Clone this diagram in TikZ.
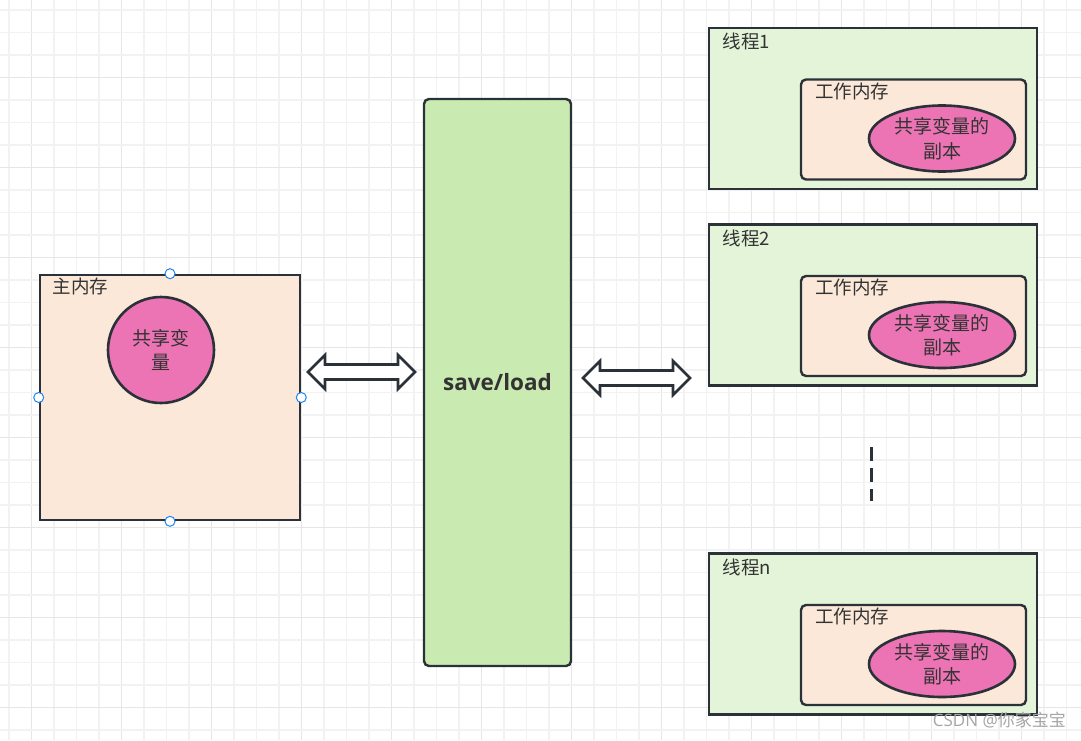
\documentclass[tikz,border=0pt]{standalone}
\usepackage{fontspec}
\usepackage{tikz}
\usetikzlibrary{shapes.geometric,calc}
\newfontfamily\cjk{Noto Sans CJK SC}
\newfontfamily\opensans{Open Sans}
\definecolor{edge}{HTML}{2B3138}
\definecolor{peach}{HTML}{FBE8D8}
\definecolor{pinkvar}{HTML}{EC74B4}
\definecolor{slgreen}{HTML}{C9EBB1}
\definecolor{thgreen}{HTML}{E3F4D9}
\definecolor{txt}{HTML}{333333}
\definecolor{gridminor}{HTML}{F2F2F2}
\definecolor{gridmajor}{HTML}{E6E6E6}
\definecolor{handleblue}{HTML}{1E86F0}
\tikzset{
  membox/.style={draw=edge, line width=2.6pt, fill=peach},
  threadbox/.style={draw=edge, line width=2.6pt, fill=thgreen},
  workbox/.style={draw=edge, line width=2.4pt, fill=peach, rounded corners=5pt},
  savebox/.style={draw=edge, line width=2.4pt, fill=slgreen, rounded corners=5pt,
    font=\opensans\fontsize{22.5}{26}\selectfont\bfseries, text=txt},
  sharedvar/.style={draw=edge, line width=2.6pt, fill=pinkvar, align=center,
    inner sep=0pt, font=\cjk\fontsize{19}{24.5}\selectfont, text=txt},
  lbl/.style={anchor=west, inner sep=0pt, font=\cjk\fontsize{18.5}{22}\selectfont, text=txt},
  handle/.style={circle, draw=handleblue, line width=1pt, fill=white, minimum size=10pt, inner sep=0pt},
  hollow/.style={draw=edge, line width=2.6pt, fill=white, line join=miter},
}
% hollow double arrow between two named points
\newcommand{\hollowdbl}[2]{%
  \draw[hollow] (#1) -- ++(17,-17) -- ++(0,9.5) -- ($(#2)+(-17,-7.5)$) -- ++(0,-9.5)
    -- (#2) -- ++(-17,17) -- ++(0,-9.5) -- ($(#1)+(17,7.5)$) -- ++(0,9.5) -- cycle;}
\begin{document}
\begin{tikzpicture}[x=1pt, y=-1pt]
  \useasboundingbox (0,0) rectangle (1081,740);
  \fill[white] (0,0) rectangle (1081,740);
  % grid
  \foreach \i in {0,...,47} {
    \pgfmathtruncatemacro{\m}{mod(\i,4)}
    \ifnum\m=1 \draw[gridmajor, line width=1.6pt] (9+22.5*\i,0) -- (9+22.5*\i,740);
    \else \draw[gridminor, line width=1.4pt] (9+22.5*\i,0) -- (9+22.5*\i,740); \fi
  }
  \foreach \i in {0,...,32} {
    \pgfmathtruncatemacro{\m}{mod(\i,4)}
    \ifnum\m=3 \draw[gridmajor, line width=1.6pt] (0,10+22.5*\i) -- (1081,10+22.5*\i);
    \else \draw[gridminor, line width=1.4pt] (0,10+22.5*\i) -- (1081,10+22.5*\i); \fi
  }

  % main memory
  \node[membox, minimum width=260pt, minimum height=245pt] (mainmem) at (170,397.5) {};
  \node[lbl] (mainlbl) at ([shift={(14,13)}]mainmem.north west) {主内存};
  \node[sharedvar, circle, minimum size=106pt] (sv) at (161,350) {共享变\\量};
  \foreach \p in {north,west,east,south}
    \node[handle] (h\p) at (mainmem.\p) {};

  % save/load
  \node[savebox, minimum width=147pt, minimum height=567pt] (sl) at (497.5,382.5) {save/load};

  % threads
  \foreach \name/\yy in {1/108.5, 2/305, n/634} {
    \node[threadbox, minimum width=328pt, minimum height=161pt] (t\name) at (873,\yy) {};
    \node[lbl] (tl\name) at ([shift={(15,15)}]t\name.north west) {线程\name};
    \node[workbox, minimum width=225pt, minimum height=100pt] (w\name) at (913.5,\yy+21) {};
    \node[lbl] (wl\name) at ([shift={(15,13)}]w\name.north west) {工作内存};
    \node[sharedvar, ellipse, minimum width=146pt, minimum height=66pt] (c\name) at (942,\yy+30) {共享变量的\\副本};
  }

  % arrows
  \coordinate (la) at (308,372);
  \coordinate (lb) at (415,372);
  \coordinate (ra) at (583,378);
  \coordinate (rb) at (690,378);
  \hollowdbl{la}{lb}
  \hollowdbl{ra}{rb}

  % dots between threads
  \coordinate (dtop) at (871,447);
  \coordinate (dbot) at (871,501);
  \draw[edge, line width=3pt, dash pattern=on 14pt off 7pt] (dtop) -- (dbot);

  \node[font=\opensans\fontsize{17}{20}\selectfont, text=black!35, anchor=east, inner sep=0pt]
    (mark) at (1066,720) {CSDN @{\cjk 你家宝宝}};
\end{tikzpicture}
\end{document}
